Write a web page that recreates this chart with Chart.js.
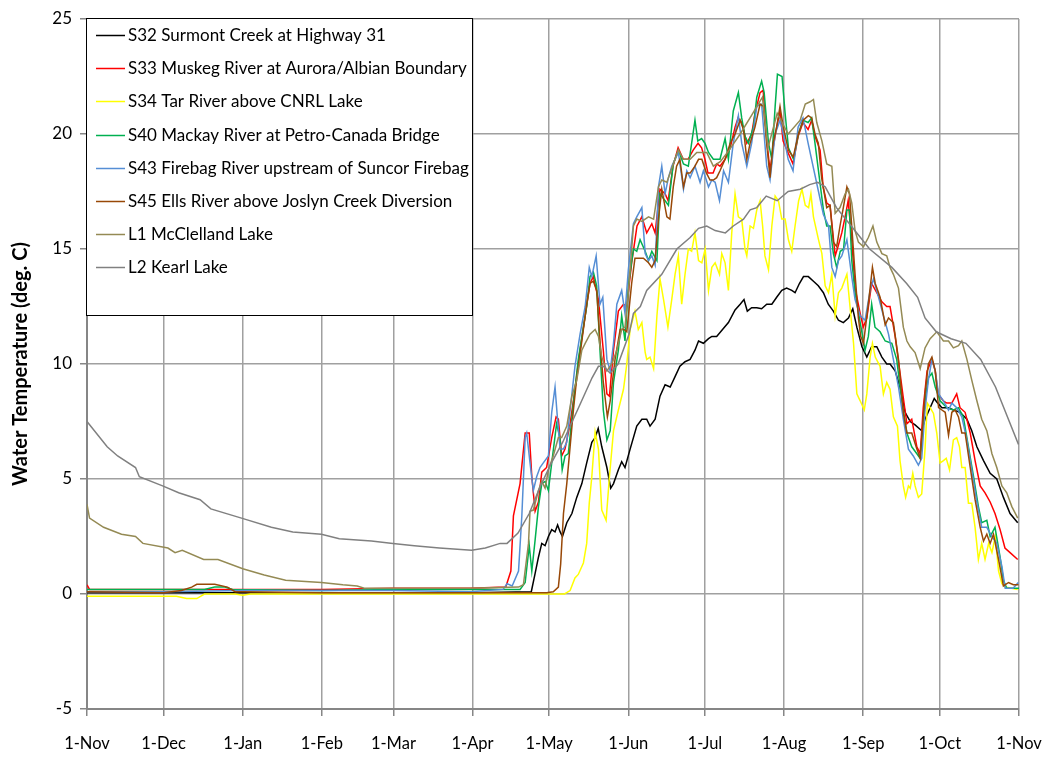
<!DOCTYPE html>
<html>
<head>
<meta charset="utf-8">
<script src="https://cdn.jsdelivr.net/npm/chart.js@4.4.1/dist/chart.umd.min.js"></script>
<style>
  html, body { margin: 0; padding: 0; background: #fff; }
  #wrap { width: 1052px; height: 757px; }
</style>
</head>
<body>
<div id="wrap"><canvas id="tempChart" width="1052" height="757"></canvas></div>
<script>
// day 0 = 1 Nov, day 365 = next 1 Nov
const monthStarts = [0, 30, 61, 92, 120, 151, 181, 212, 242, 273, 304, 334, 365];
const monthLabels = ["1-Nov", "1-Dec", "1-Jan", "1-Feb", "1-Mar", "1-Apr", "1-May", "1-Jun", "1-Jul", "1-Aug", "1-Sep", "1-Oct", "1-Nov"];
const yTicks = [-5, 0, 5, 10, 15, 20, 25];

const seriesNames = [
  "S32 Surmont Creek at Highway 31",
  "S33 Muskeg River at Aurora/Albian Boundary",
  "S34 Tar River above CNRL Lake",
  "S40 Mackay River at Petro-Canada Bridge",
  "S43 Firebag River upstream of Suncor Firebag",
  "S45 Ells River above Joslyn Creek Diversion",
  "L1 McClelland Lake",
  "L2 Kearl Lake"
];
const seriesColors = ["#000000", "#ff0000", "#ffff00", "#00b050", "#558ed5", "#984807", "#948a54", "#808080"];

// [day, temperature] pairs
const s32 = [[0,0.05],[61,0.05],[120,0.05],[150,0.05],[174,0.1],[175.5,0.9],[176.8,1.6],[178.1,2.2],[179.4,2.1],[180.7,2.5],[182,2.8],[183.3,2.7],[184.3,3.0],[185.3,2.7],[186.2,2.5],[187.9,3.1],[189.9,3.5],[191.8,4.2],[193.8,4.8],[195.7,5.7],[197.7,6.6],[199,6.8],[200.2,7.2],[201.6,6.4],[203.6,5.5],[205.1,4.6],[206.2,4.8],[208.1,5.4],[209.4,5.75],[210.7,5.5],[212.7,6.3],[215.3,7.3],[217.3,7.6],[219.2,7.6],[220.5,7.3],[222.5,7.6],[224.4,8.6],[226.4,9.1],[228.4,9.0],[230.3,9.45],[232.2,9.9],[234.2,10.1],[236.2,10.2],[238.1,10.6],[239.5,11.0],[241.4,10.9],[243.4,11.1],[244.7,11.2],[246.6,11.2],[249.3,11.55],[251.2,11.8],[253.8,12.35],[255.8,12.6],[257.3,12.8],[258.6,12.3],[260.3,12.45],[262.3,12.45],[264.2,12.4],[266.2,12.6],[268.2,12.6],[270.1,12.9],[272.1,13.2],[274,13.3],[276,13.2],[277.3,13.1],[279,13.5],[280.6,13.8],[282.5,13.8],[284.5,13.6],[286.4,13.4],[288.4,13.1],[290.3,12.6],[292.3,12.3],[294.3,11.9],[296.2,11.8],[298.2,12.0],[299.9,12.4],[301.5,11.6],[303.5,10.75],[305.4,10.3],[307.3,10.75],[309.3,10.75],[311.3,10.3],[313.2,10.0],[314.5,10.0],[316.5,9.7],[318.4,9.0],[320.4,7.9],[322.4,7.5],[324.3,7.35],[326.9,7.1],[328.2,7.6],[330.2,8.1],[331.8,8.5],[332.8,8.35],[334.8,8.1],[337.4,8.1],[339.3,8.0],[341.9,7.9],[344.6,7.6],[346.5,7.1],[348.5,6.4],[351.1,5.8],[353.7,5.25],[356.3,5.0],[358.9,4.2],[361.5,3.5],[364.5,3.1]];

const s33 = [[0,0.4],[1,0.2],[30,0.2],[61,0.2],[92,0.2],[120,0.25],[150,0.25],[164,0.3],[166,1.0],[167,3.4],[169.6,4.8],[171.6,7.0],[173.2,7.0],[174.2,5.1],[175.5,3.6],[176.8,4.0],[178.1,5.3],[180,5.5],[182,6.8],[183.7,7.7],[184.6,7.6],[185.9,6.0],[187.2,6.3],[189.2,7.4],[191.1,8.9],[193.1,10.6],[195.1,12.1],[197,13.5],[198.3,13.8],[200.3,12.8],[202.2,10.6],[203.6,8.7],[204.6,8.6],[206.2,10.6],[208.1,12.3],[210.1,12.6],[211.4,12.5],[213.3,14.4],[215.4,16.0],[217.3,16.4],[219.2,15.7],[221.2,16.1],[222.5,15.7],[224.4,17.6],[226.4,17.4],[227.6,17.1],[229.5,18.6],[231.5,19.4],[233.5,18.9],[235.4,18.9],[237.4,19.3],[239.3,19.6],[240.7,19.4],[242,18.9],[243.2,18.3],[245.2,18.3],[246.6,18.7],[247.9,18.6],[249.9,18.9],[251.9,19.4],[253.8,20.3],[255,20.7],[256.4,20.5],[258.4,19.6],[260.3,20.0],[261.6,20.9],[263.6,21.8],[264.8,21.9],[266.2,19.7],[267.5,18.4],[268.7,19.4],[270.1,20.3],[271.4,21.0],[272.6,19.7],[274.5,19.2],[276.5,18.7],[278.5,19.9],[280.4,20.5],[282.4,20.2],[283.8,20.6],[285.1,19.9],[287.1,19.3],[288.3,17.7],[289.7,17.0],[291,16.9],[293,14.7],[294.1,15.1],[295.6,15.7],[296.9,16.4],[298.1,17.1],[299.5,15.4],[300.8,13.3],[302.8,12.2],[304,11.6],[305.4,12.0],[307.3,13.5],[309.3,13.1],[311.3,12.7],[313.2,12.5],[314.5,12.5],[316.5,11.2],[317.7,10.2],[319.6,8.6],[321.1,7.4],[323,7.6],[325,6.4],[326.3,6.1],[327.5,8.1],[329,9.7],[330.9,10.2],[332.2,9.7],[333.3,8.7],[335.3,8.4],[336.7,8.3],[338.7,8.3],[340.6,8.7],[341.9,8.1],[343.9,7.9],[345.9,7.0],[347.8,5.8],[349.8,4.7],[351.7,4.4],[353.7,4.0],[355.6,3.5],[357.6,2.8],[359.5,2.0],[361.5,1.8],[364.5,1.5]];

const s34 = [[0,-0.1],[35,-0.1],[39,-0.2],[43,-0.2],[46,0],[58,0],[61,-0.05],[64,0],[92,0],[120,0],[150,0],[187,0],[189.2,0.15],[191.1,0.7],[192.4,0.85],[194.4,1.35],[195.7,2.2],[196.7,3.95],[197.7,5.1],[199,7.05],[200.3,6.3],[201.6,3.65],[203.3,3.2],[204.6,5.1],[206.2,7.1],[208.1,8.0],[210.1,8.9],[211.4,10.0],[212.7,11.5],[214.6,12.3],[215.9,11.5],[217.3,11.8],[218.6,10.5],[219.2,10.2],[220.5,10.3],[221.9,9.8],[223.2,12.1],[224.4,13.7],[225.8,12.8],[227.5,11.6],[229,12.8],[230.3,13.9],[231.6,14.7],[232.9,12.6],[234.2,13.9],[235.5,15.0],[236.8,14.9],[238.1,15.7],[239.5,14.5],[240.8,14.4],[242.1,15.0],[243.4,13.2],[244.7,14.2],[246,14.4],[247.7,13.9],[248.6,14.8],[249.9,14.4],[251.2,13.2],[252.5,15.7],[253.8,17.4],[255.1,16.4],[256.4,16.3],[257.7,15.0],[258.4,14.7],[259.7,16.0],[261,15.9],[262.3,16.7],[263.6,17.1],[264.6,16.0],[265.5,14.7],[266.9,14.1],[268.2,16.0],[269.5,17.3],[270.8,17.1],[272.1,16.3],[273.4,16.3],[274.7,15.4],[276,14.9],[277.3,16.0],[278.7,17.1],[280,17.6],[281.3,16.9],[282.6,16.8],[283.5,17.4],[284.5,16.4],[286.5,15.4],[287.8,14.8],[289.1,13.4],[290.4,13.1],[291.7,13.9],[293,12.1],[294.3,13.1],[295.6,13.3],[297.6,13.9],[298.9,12.4],[300.2,10.9],[301.5,8.7],[302.8,8.4],[304.4,8.0],[305.4,8.7],[306.7,10.3],[307.6,10.9],[308.7,10.3],[310.6,9.9],[311.9,8.7],[313.2,9.2],[314.5,8.9],[315.8,7.7],[317.4,7.3],[318.4,5.8],[319.7,4.7],[320.6,4.2],[321.7,4.7],[322.4,4.6],[323.4,5.25],[324.3,4.7],[325.6,4.2],[326.9,4.35],[328.2,6.3],[329.1,8.3],[330.2,8.1],[331.5,7.85],[332.8,7.0],[334.1,5.7],[335.4,5.8],[336.5,5.9],[337.8,5.4],[339.3,6.7],[340.6,6.8],[341.7,6.4],[342.6,5.5],[343.9,5.5],[345.2,3.95],[346.5,3.95],[347.8,2.9],[349.1,1.5],[350.4,2.2],[351.7,1.5],[353.1,2.2],[354.4,1.8],[355.7,2.5],[357,1.0],[358.3,0.45],[359.6,0.3],[364.5,0.2]];

const s40 = [[0,0.2],[46,0.2],[50,0.3],[54,0.3],[57,0.2],[92,0.15],[120,0.2],[150,0.2],[169.6,0.2],[171.6,0.5],[173.2,2.1],[174.2,1.0],[175.5,2.35],[176.8,3.8],[178.1,4.8],[179.4,4.9],[180.7,4.5],[182,5.7],[183.9,7.4],[185.2,6.8],[186.1,5.4],[187.2,6.0],[188.5,6.1],[190.5,8.3],[192.4,10.2],[194.4,11.6],[195.7,12.5],[197,13.8],[198.3,14.0],[199.6,13.4],[200.9,10.6],[202.2,8.0],[203.6,6.7],[204.9,7.1],[206.2,9.2],[208.1,10.6],[209.4,12.1],[210.7,11.0],[212,13.4],[214,15.0],[215.3,14.9],[216.6,15.4],[218.6,14.9],[219.9,14.5],[221.2,14.9],[223.2,14.5],[224.4,17.4],[226.4,17.1],[227.7,16.9],[229.6,18.7],[231.6,19.3],[233.6,18.7],[235.5,18.6],[236.8,19.6],[238.1,20.6],[239.2,19.7],[240.7,19.8],[242,19.6],[243.4,19.2],[245.3,18.9],[247.9,18.9],[249.9,19.8],[251.2,18.9],[253.1,21.0],[255.1,21.8],[256.4,20.7],[257.7,19.9],[259,19.6],[261,20.3],[262.3,21.6],[264.2,22.3],[265.2,21.8],[266.9,19.6],[268.2,18.9],[269.5,21.2],[270.4,22.6],[272.2,22.5],[273.4,20.9],[274.7,19.4],[276.7,18.9],[278.6,20.0],[280.4,20.6],[282.4,20.5],[283.8,20.7],[285.1,19.6],[288.4,16.7],[289.7,16.0],[291,16.0],[292.3,14.8],[293.6,14.2],[295,14.9],[296.3,15.0],[297.6,16.7],[298.6,16.7],[299.5,14.5],[300.8,13.1],[302.8,11.8],[304.7,10.6],[306,11.2],[307.3,12.6],[308.6,11.6],[310.6,11.4],[312.6,11.0],[315.2,10.9],[317.1,10.2],[319.1,8.4],[321.1,7.0],[323,6.4],[325,6.1],[326.3,5.9],[328.2,8.4],[329.5,9.4],[330.9,9.6],[332.2,9.0],[334.1,8.4],[336.7,8.1],[339.3,8.0],[341.3,8.1],[343.2,7.7],[345.2,6.4],[347.2,5.1],[349.1,3.8],[350.4,3.1],[352.4,3.2],[353.7,2.5],[355.6,2.9],[357.6,1.6],[358.9,0.6],[360.2,0.25],[365,0.25]];

const s43 = [[0,0.1],[30,0.1],[61,0.15],[92,0.15],[120,0.15],[150,0.1],[163,0.2],[164.5,0.45],[166.5,0.35],[169,1.0],[170.3,3.4],[171.6,6.8],[172.2,7.0],[173.5,5.7],[174.8,4.5],[176.1,5.1],[177.4,5.5],[178.7,5.7],[180.7,6.0],[182,7.9],[183.3,9.0],[184.2,7.7],[185.3,6.3],[186.6,6.3],[187.9,6.6],[189.2,8.0],[191.1,9.9],[193.1,11.3],[195.1,12.5],[196.7,14.2],[197.7,13.8],[199.4,14.7],[200.9,12.6],[202,12.9],[203.6,10.2],[204.9,9.7],[206.2,10.9],[207.5,12.6],[209.4,13.2],[210.7,12.2],[212,14.1],[214,16.1],[215.3,16.4],[217.3,16.8],[218.6,14.8],[219.9,14.5],[221.2,14.7],[222.5,14.3],[223.8,17.7],[225.1,18.6],[226.4,17.4],[227.7,18.1],[229,18.6],[230.3,18.9],[231.6,19.2],[233.6,17.6],[234.9,18.4],[236.2,18.1],[238.1,18.6],[240.1,17.9],[241.4,18.4],[243.4,17.7],[244.7,18.0],[246,17.9],[247.7,17.1],[249.3,18.4],[251.2,17.9],[253.1,19.6],[255.1,20.8],[256.4,19.6],[258.4,18.6],[260.3,19.6],[262.3,21.2],[264.2,21.3],[266.2,18.6],[267.5,18.0],[269.5,20.0],[271.4,20.6],[272.7,20.0],[274.6,18.9],[276.5,18.4],[278.5,20.3],[280.4,20.7],[282.4,19.6],[288.4,16.5],[290.4,16.0],[291.7,14.2],[293,13.8],[294.3,14.5],[295.6,14.7],[297.6,15.4],[299.5,13.8],[300.8,12.8],[302.8,12.1],[304.7,11.9],[306.7,13.2],[308,13.7],[310,12.9],[311.9,12.1],[313.9,11.3],[315.8,10.2],[317.8,9.0],[319.7,7.6],[321.7,6.3],[323.6,6.0],[325.6,5.6],[326.9,5.9],[328.2,8.0],[329.5,9.3],[330.9,10.2],[332.2,9.7],[333.5,8.7],[335.4,8.4],[337.4,8.0],[338.7,8.3],[340.6,8.1],[342.6,7.7],[344.6,6.7],[346.5,5.4],[348.5,4.0],[350.4,2.9],[352.4,2.9],[354.4,2.5],[356.3,2.2],[358.3,1.2],[359.6,0.25],[362.7,0.25],[364.7,0.5]];

const s45 = [[0,0.1],[30,0.05],[37,0.15],[41,0.3],[43,0.42],[50,0.42],[55,0.3],[58,0.1],[61,0.1],[92,0.05],[120,0.05],[150,0.05],[180,0.05],[182.6,0.1],[184.6,0.3],[185.5,1.3],[186.6,3.5],[187.9,4.8],[189.2,6.4],[190.5,8.0],[191.8,9.4],[193.8,11.0],[195.7,12.6],[197,13.5],[198.3,13.6],[199.6,13.2],[200.9,11.0],[202.2,9.2],[203.8,7.7],[204.9,8.4],[206.8,10.2],[208.8,11.5],[210.3,11.5],[211.4,11.4],[213.3,13.5],[214.6,14.6],[216,14.6],[217.9,14.6],[219.9,14.4],[221.2,14.2],[222.5,14.5],[223.8,16.3],[225.1,17.6],[227.1,16.4],[228.3,16.3],[229.6,17.7],[230.9,18.6],[232.2,18.9],[233.6,17.7],[234.9,18.3],[236.2,18.3],[238.1,18.6],[239.5,18.9],[240.8,18.9],[242.6,18.3],[244,18.0],[245.3,18.0],[246.6,18.1],[247.9,18.4],[249.9,18.9],[251.9,19.6],[253.8,20.0],[255.8,20.6],[257.1,20.2],[258.4,18.9],[259.7,19.6],[261.6,20.3],[263.6,21.3],[264.9,21.2],[266.2,19.6],[267.5,18.1],[268.7,19.6],[270.1,20.3],[271.4,21.2],[272.7,20.3],[274.7,19.3],[276.6,19.0],[278.6,20.0],[280.5,20.6],[282.5,20.8],[283.8,20.7],[285.1,20.0],[286.4,19.6],[287.7,18.1],[289.7,16.8],[291,16.9],[292.3,15.3],[293.6,15.1],[294.9,16.0],[296.2,16.8],[297.6,17.7],[298.6,17.4],[299.5,16.0],[300.8,13.9],[302.1,12.0],[303,11.2],[304.1,10.9],[306,12.6],[307.6,14.2],[308.7,13.5],[310.6,12.9],[312.6,11.7],[313.9,12.0],[315.8,11.8],[317.8,10.2],[319.7,7.9],[321.1,7.0],[323,7.0],[325,6.3],[326.3,5.9],[328.2,8.7],[329.5,10.0],[330.9,10.3],[332.2,9.7],[333.5,8.1],[334.8,8.0],[336.1,7.9],[337.4,6.9],[338.7,7.9],[340,8.0],[341.3,7.7],[342.6,7.0],[343.9,7.0],[345.9,5.5],[347.8,4.1],[349.8,2.9],[351.1,2.3],[352.4,2.6],[353.7,2.2],[355,2.6],[357,1.5],[358.9,0.35],[360.9,0.5],[362.8,0.4],[364.8,0.4]];

const l1 = [[0,3.9],[1,3.3],[6.5,2.9],[13.5,2.6],[19,2.5],[21.9,2.2],[31.7,2.0],[34.5,1.8],[37.3,1.9],[45.7,1.5],[51.3,1.5],[61,1.1],[69.4,0.83],[77.8,0.6],[91.8,0.5],[100.2,0.4],[105.8,0.35],[108.6,0.25],[150,0.25],[169,0.3],[170.9,0.4],[172.9,2.2],[173.5,3.6],[174.8,3.65],[176.8,4.5],[178.1,4.9],[179.4,4.6],[180.7,5.4],[182.6,6.0],[184.6,6.8],[185.9,6.8],[187.9,7.3],[189.9,8.6],[191.8,9.3],[193.8,10.6],[195.1,10.9],[197,11.3],[199,11.5],[200.3,11.2],[201.6,10.3],[203.6,9.7],[205.5,10.0],[207.5,10.6],[209.4,11.5],[210.7,11.6],[212,13.1],[214,16.0],[215.3,16.3],[217.3,16.2],[219.9,16.4],[221.9,16.3],[223.8,17.7],[225.1,18.0],[227.1,17.9],[229.6,18.7],[231.6,19.3],[233.6,18.9],[236.2,18.9],[238.8,19.2],[242.7,19.2],[245.3,18.6],[248,18.8],[251.5,19.3],[255.8,20.0],[260.2,20.8],[264.5,21.6],[266.7,19.4],[270.3,20.9],[274.6,20.0],[279.3,20.6],[281.3,21.3],[283.2,21.4],[284.5,21.5],[285.8,20.5],[287.8,19.7],[289.7,18.7],[291.7,18.6],[293,16.55],[294.9,16.8],[296.9,17.4],[298.2,17.6],[299.5,17.0],[300.8,15.8],[302.1,15.3],[304.1,15.1],[306,15.5],[307.8,16.0],[309.3,15.3],[311.3,14.8],[313.2,14.7],[314.5,14.2],[315.8,13.9],[317.8,13.3],[319.7,11.6],[321.1,11.0],[322.4,10.75],[324.3,10.5],[326.3,9.8],[328.2,10.7],[330.2,11.1],[332.8,11.4],[335.4,11.0],[337.4,11.0],[339.3,10.7],[341.3,10.8],[342.6,11.0],[344.6,10.2],[346.5,9.3],[348.5,8.4],[350.4,7.6],[352.4,7.1],[354.4,6.1],[356.3,5.5],[358.3,4.7],[360.2,4.4],[362.2,3.8],[364.5,3.3]];

const l2 = [[0,7.5],[7.9,6.4],[12,6.0],[19,5.5],[20.5,5.1],[29.6,4.7],[35.9,4.4],[44.3,4.1],[48.5,3.7],[60.5,3.3],[72.2,2.9],[80.6,2.7],[91.8,2.6],[98.8,2.4],[111.4,2.3],[119.8,2.2],[128.2,2.1],[138,2.0],[150.6,1.9],[156,2.0],[161.8,2.2],[164.5,2.2],[168.8,2.65],[173.2,3.5],[177.6,4.7],[181.9,5.7],[186.3,6.6],[192.1,8.0],[197.8,9.4],[200.3,9.9],[202.2,9.9],[204.9,9.6],[208,10.0],[212.3,11.3],[214,12.2],[216.7,12.5],[219.2,13.2],[225.1,13.9],[231,15.0],[236.2,15.5],[239.5,15.9],[242.7,16.0],[246,15.8],[250,15.7],[253.1,16.0],[257.1,16.3],[259.7,16.7],[262.3,16.8],[266,17.3],[270.3,17.1],[274.6,17.5],[279.3,17.6],[283,17.8],[286.2,17.9],[289.1,17.7],[293.5,16.8],[299.3,16.0],[306.5,15.0],[315.2,14.2],[321,13.5],[325.3,12.9],[328.2,12.0],[332.6,11.4],[338.4,11.1],[344.2,10.9],[350,10.2],[355.8,9.0],[364.8,6.5]];

const seriesData = [s32, s33, s34, s40, s43, s45, l1, l2];

Chart.defaults.font.family = "Lato, 'Open Sans', sans-serif";
Chart.defaults.color = "#000";

// legend box drawn inside the plot, over the gridlines
const boxLegend = {
  id: "boxLegend",
  afterDatasetsDraw(chart) {
    const { ctx, chartArea } = chart;
    const x = chartArea.left - 1, y = chartArea.top - 1;
    const w = 387, h = 298;
    ctx.save();
    ctx.fillStyle = "#fff";
    ctx.fillRect(x, y, w, h);
    ctx.strokeStyle = "#000";
    ctx.lineWidth = 1;
    ctx.strokeRect(x + 0.5, y + 0.5, w - 1, h - 1);
    ctx.font = "17px Lato, 'Open Sans', sans-serif";
    ctx.textBaseline = "middle";
    ctx.textAlign = "left";
    chart.data.datasets.forEach((ds, i) => {
      const cy = Math.round(y + 17 + i * 33.2) + 0.5;
      ctx.strokeStyle = ds.borderColor;
      ctx.lineWidth = 1.5;
      ctx.beginPath();
      ctx.moveTo(x + 10, cy);
      ctx.lineTo(x + 39, cy);
      ctx.stroke();
      ctx.fillStyle = "#000";
      ctx.fillText(ds.label, x + 42, cy);
    });
    ctx.restore();
  },
};

new Chart(document.getElementById("tempChart").getContext("2d"), {
  type: "line",
  data: {
    datasets: seriesNames.map((name, i) => ({
      label: name,
      data: seriesData[i].map(([d, t]) => ({ x: d, y: t })),
      borderColor: seriesColors[i],
      backgroundColor: seriesColors[i],
      borderWidth: 1.5,
      pointRadius: 0,
      tension: 0,
      fill: false,
      order: seriesNames.length - i,
    })),
  },
  options: {
    responsive: false,
    animation: false,
    devicePixelRatio: 1,
    layout: { padding: { top: 19, right: 33, bottom: 0, left: 0 } },
    plugins: {
      legend: { display: false },
      tooltip: { enabled: false },
    },
    scales: {
      x: {
        type: "linear",
        min: 0,
        max: 365,
        afterBuildTicks: (scale) => { scale.ticks = monthStarts.map((v) => ({ value: v })); },
        afterFit: (scale) => {
          scale.height = 48;
          scale.paddingLeft = 0;
          scale.paddingRight = 0;
        },
        ticks: {
          autoSkip: false,
          maxRotation: 0,
          padding: 18,
          font: { size: 16.5 },
          callback: (value) => monthLabels[monthStarts.indexOf(value)],
        },
        grid: { color: "#a0a0a0", lineWidth: 1.5, tickLength: 7, tickColor: "#868686" },
        border: { color: "#868686", width: 2 },
      },
      y: {
        min: -5,
        max: 25,
        afterBuildTicks: (scale) => { scale.ticks = yTicks.map((v) => ({ value: v })); },
        afterFit: (scale) => { scale.width = 87; },
        ticks: { padding: 8, font: { size: 17 } },
        grid: { color: "#a0a0a0", lineWidth: 1.5, tickLength: 7, tickColor: "#868686" },
        border: { color: "#868686", width: 2 },
        title: {
          display: true,
          text: "Water Temperature (deg. C)",
          font: { size: 20, weight: "bold" },
          padding: { top: 9, bottom: 0 },
        },
      },
    },
  },
  plugins: [boxLegend],
});
</script>
</body>
</html>
